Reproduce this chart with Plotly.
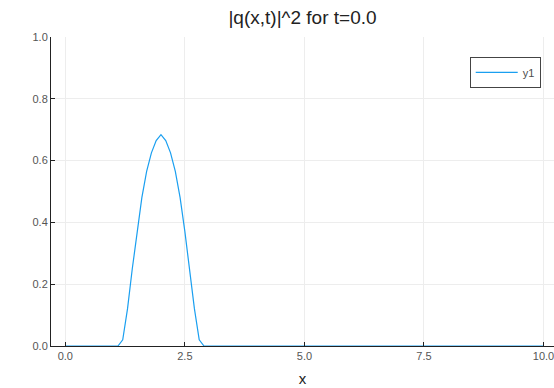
import plotly.graph_objects as go

# data
x_vals = [0.0, 1.1, 1.2, 1.3, 1.4, 1.5, 1.6, 1.7, 1.8, 1.9, 2.0,
          2.1, 2.2, 2.3, 2.4, 2.5, 2.6, 2.7, 2.8, 2.9, 10.0]
y_vals = [0.0, 0.0, 0.02, 0.12, 0.25, 0.37, 0.48, 0.565, 0.625, 0.665, 0.684,
          0.665, 0.625, 0.565, 0.48, 0.37, 0.25, 0.12, 0.02, 0.0, 0.0]
series_name = "y1"
title_text = "|q(x,t)|^2 for t=0.0"
x_ticks = [0.0, 2.5, 5.0, 7.5, 10.0]
x_tick_labels = ["0.0", "2.5", "5.0", "7.5", "10.0"]
y_ticks = [0.0, 0.2, 0.4, 0.6, 0.8, 1.0]
y_tick_labels = ["0.0", "0.2", "0.4", "0.6", "0.8", "1.0"]

FONT = "Liberation Sans, Arial, sans-serif"
AXIS_COLOR = "#222222"
GRID_COLOR = "#ededed"

fig = go.Figure()
fig.add_trace(go.Scatter(
    x=x_vals, y=y_vals, mode="lines", name=series_name,
    line=dict(color="#1a9ff0", width=1.2), cliponaxis=False,
))

fig.update_layout(
    width=554, height=388,
    margin=dict(l=51, r=0, t=37, b=42),
    paper_bgcolor="white", plot_bgcolor="white",
    font=dict(family=FONT, color="#4d4d4d", size=11),
    title=dict(text=title_text, x=0.5, xref="paper", xanchor="center",
               y=1 - 17 / 388, yanchor="middle",
               font=dict(family=FONT, size=19, color="#222222")),
    showlegend=True,
    legend=dict(x=0.9736, xanchor="right", y=0.936, yanchor="top",
                bgcolor="white", bordercolor="#444444", borderwidth=1,
                itemwidth=42,
                font=dict(family=FONT, size=11, color="#4d4d4d")),
    xaxis=dict(
        range=[-0.3, 10.22], tickvals=x_ticks, ticktext=x_tick_labels,
        showgrid=True, gridcolor=GRID_COLOR, gridwidth=1, zeroline=False,
        showline=True, linecolor=AXIS_COLOR, linewidth=1,
        ticks="inside", ticklen=4, tickcolor=AXIS_COLOR, tickwidth=1,
        ticklabeloverflow="allow",
        title=dict(text="x", font=dict(family=FONT, size=15, color="#222222"),
                   standoff=12),
        tickfont=dict(family=FONT, size=11, color="#555555"),
    ),
    yaxis=dict(
        range=[0, 1], tickvals=y_ticks, ticktext=y_tick_labels,
        showgrid=True, gridcolor=GRID_COLOR, gridwidth=1, zeroline=False,
        showline=True, linecolor=AXIS_COLOR, linewidth=1,
        ticks="inside", ticklen=4, tickcolor=AXIS_COLOR, tickwidth=1,
        tickfont=dict(family=FONT, size=11, color="#555555"),
    ),
)

fig.write_html("out.html")
